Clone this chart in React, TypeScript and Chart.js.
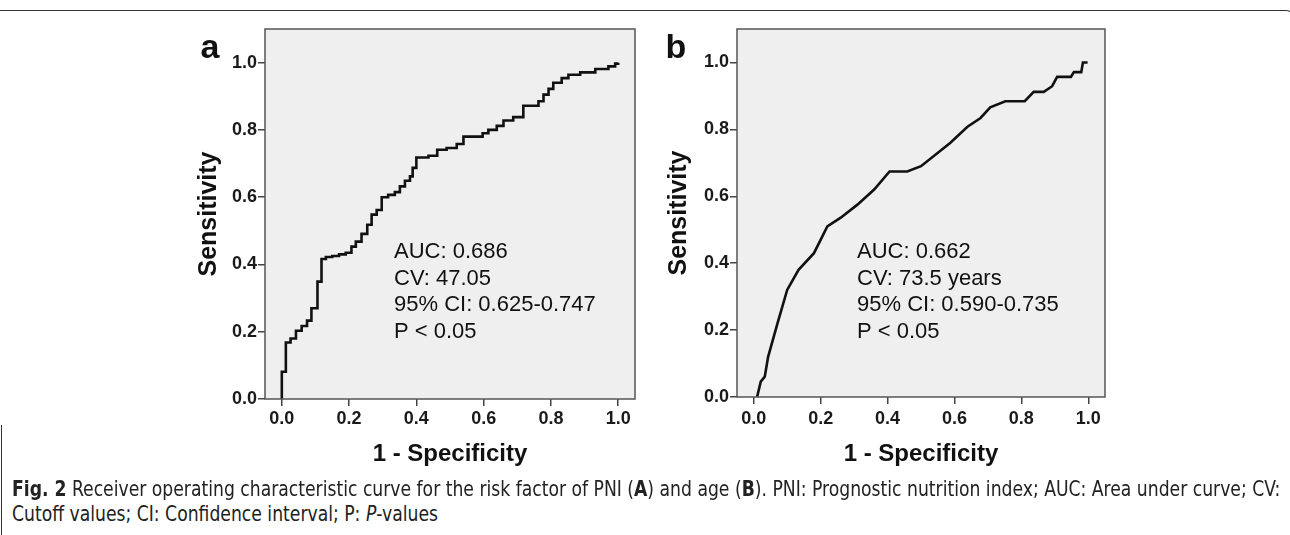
import React, { useEffect, useRef } from "react";
import { Chart, registerables } from "chart.js";

Chart.register(...registerables);

// ---------- data ----------
const xTickValues = [0.0, 0.2, 0.4, 0.6, 0.8, 1.0];
const yTickValues = [0.0, 0.2, 0.4, 0.6, 0.8, 1.0];

// Panel a (PNI): step-curve corners, 1 - specificity where the step happens, new sensitivity
const pniFpr = [
  0.0, 0.0, 0.012, 0.026, 0.042, 0.059, 0.075, 0.088, 0.106, 0.118, 0.131, 0.15, 0.17, 0.19,
  0.207, 0.22, 0.237, 0.254, 0.267, 0.282, 0.297, 0.316, 0.336, 0.351, 0.366, 0.381, 0.389,
  0.4, 0.436, 0.462, 0.49, 0.52, 0.54, 0.597, 0.614, 0.639, 0.659, 0.688, 0.718, 0.763,
  0.778, 0.793, 0.807, 0.832, 0.852, 0.887, 0.932, 0.971, 0.991, 1.0,
];
const pniTpr = [
  0.0, 0.081, 0.168, 0.18, 0.203, 0.217, 0.233, 0.27, 0.349, 0.416, 0.422, 0.425, 0.43, 0.435,
  0.453, 0.468, 0.491, 0.518, 0.548, 0.562, 0.6, 0.607, 0.615, 0.632, 0.649, 0.662, 0.687,
  0.718, 0.723, 0.741, 0.746, 0.758, 0.78, 0.79, 0.8, 0.812, 0.828, 0.838, 0.872, 0.885,
  0.905, 0.922, 0.94, 0.954, 0.964, 0.971, 0.981, 0.989, 0.997, 1.0,
];

// Panel b (age)
const ageFpr = [
  0.01, 0.021, 0.033, 0.043, 0.071, 0.1, 0.134, 0.18, 0.22, 0.26, 0.31, 0.36, 0.406, 0.459,
  0.5, 0.588, 0.638, 0.678, 0.707, 0.752, 0.81, 0.837, 0.867, 0.892, 0.907, 0.948, 0.957,
  0.979, 0.984, 0.998,
];
const ageTpr = [
  0.0, 0.046, 0.061, 0.12, 0.22, 0.32, 0.38, 0.43, 0.51, 0.536, 0.575, 0.62, 0.674, 0.674,
  0.69, 0.76, 0.807, 0.834, 0.866, 0.884, 0.884, 0.912, 0.912, 0.929, 0.957, 0.957, 0.971,
  0.971, 1.0, 1.0,
];

const pniStats = ["AUC: 0.686", "CV: 47.05", "95% CI: 0.625-0.747", "P < 0.05"];
const ageStats = ["AUC: 0.662", "CV: 73.5 years", "95% CI: 0.590-0.735", "P < 0.05"];

const xTitle = "1 - Specificity";
const yTitle = "Sensitivity";

// ---------- styling ----------
const FONT = '"Liberation Sans", Arial, Helvetica, sans-serif';
const CAP_FONT = '"Liberation Sans Narrow", "DejaVu Sans Condensed", "Liberation Sans", Arial, sans-serif';

const panelDeco = {
  id: "panelDeco",
  beforeDatasetsDraw(chart: any) {
    const { ctx, chartArea: a } = chart;
    ctx.save();
    ctx.fillStyle = "#efefef";
    ctx.fillRect(a.left, a.top, a.right - a.left, a.bottom - a.top);
    ctx.restore();
  },
  afterDraw(chart: any, _args: any, o: any) {
    const { ctx, chartArea: a } = chart;
    ctx.save();
    ctx.strokeStyle = "#555";
    ctx.lineWidth = 1.5;
    ctx.strokeRect(a.left, a.top, a.right - a.left, a.bottom - a.top);
    ctx.fillStyle = "#111";
    ctx.font = `bold 34px ${FONT}`;
    ctx.textAlign = "center";
    ctx.textBaseline = "alphabetic";
    ctx.fillText(o.letter, o.letterX, 58);
    ctx.font = `22px ${FONT}`;
    ctx.textAlign = "left";
    const baselines = [258, 284.5, 311, 337.5];
    (o.stats as string[]).forEach((s, i) => ctx.fillText(s, o.statsX, baselines[i]));
    ctx.restore();
  },
};

function makeConfig(p: {
  fpr: number[];
  tpr: number[];
  stepped: boolean;
  yAxisWidth: number;
  padRight: number;
  xAxisHeight: number;
  yTitlePad: number;
  xTickPad: number;
  letter: string;
  letterX: number;
  stats: string[];
  statsX: number;
}): any {
  const tickFont = { family: FONT, size: 18, weight: "bold" as const };
  const grid = {
    drawOnChartArea: false,
    drawTicks: true,
    tickLength: 7,
    color: "#444",
    lineWidth: 1.5,
  };
  return {
    type: "line",
    data: {
      datasets: [
        {
          data: p.fpr.map((x, i) => ({ x, y: p.tpr[i] })),
          borderColor: "#111",
          borderWidth: 2.6,
          pointRadius: 0,
          fill: false,
          tension: 0,
          stepped: p.stepped ? "before" : false,
          borderJoinStyle: "miter",
        },
      ],
    },
    options: {
      animation: false,
      responsive: false,
      maintainAspectRatio: false,
      devicePixelRatio: 1,
      layout: { padding: { top: 29, right: p.padRight, bottom: 0, left: 0 } },
      plugins: {
        legend: { display: false },
        tooltip: { enabled: false },
        panelDeco: { letter: p.letter, letterX: p.letterX, stats: p.stats, statsX: p.statsX },
      },
      scales: {
        x: {
          type: "linear",
          min: -0.05,
          max: 1.05,
          afterBuildTicks: (s: any) => {
            s.ticks = xTickValues.map((v) => ({ value: v }));
          },
          afterFit: (s: any) => {
            s.height = p.xAxisHeight;
          },
          ticks: {
            callback: (v: any) => Number(v).toFixed(1),
            font: tickFont,
            color: "#1a1a1a",
            padding: p.xTickPad,
            maxRotation: 0,
            autoSkip: false,
          },
          grid,
          border: { display: false },
          title: {
            display: true,
            text: xTitle,
            color: "#111",
            font: { family: FONT, size: 24, weight: "bold" },
            padding: { top: 0, bottom: 11.6 },
          },
        },
        y: {
          type: "linear",
          min: 0,
          max: 1.1,
          afterBuildTicks: (s: any) => {
            s.ticks = yTickValues.map((v) => ({ value: v }));
          },
          afterFit: (s: any) => {
            s.width = p.yAxisWidth;
          },
          ticks: {
            callback: (v: any) => Number(v).toFixed(1),
            font: tickFont,
            color: "#1a1a1a",
            padding: 1,
            autoSkip: false,
          },
          grid,
          border: { display: false },
          title: {
            display: true,
            text: yTitle,
            color: "#111",
            font: { family: FONT, size: 25, weight: "bold" },
            padding: { top: p.yTitlePad, bottom: 0 },
          },
        },
      },
    },
    plugins: [panelDeco],
  };
}

export default function App() {
  const refA = useRef<HTMLCanvasElement>(null);
  const refB = useRef<HTMLCanvasElement>(null);
  const cap1 = useRef<HTMLDivElement>(null);
  const cap2 = useRef<HTMLDivElement>(null);

  useEffect(() => {
    const a = new Chart(
      refA.current!,
      makeConfig({
        fpr: pniFpr,
        tpr: pniTpr,
        stepped: true,
        yAxisWidth: 265,
        padRight: 10,
        xAxisHeight: 81,
        yTitlePad: 194,
        xTickPad: 2,
        letter: "a",
        letterX: 210,
        stats: pniStats,
        statsX: 394,
      })
    );
    const b = new Chart(
      refB.current!,
      makeConfig({
        fpr: ageFpr,
        tpr: ageTpr,
        stepped: false,
        yAxisWidth: 92,
        padRight: 185,
        xAxisHeight: 83,
        yTitlePad: 19,
        xTickPad: 4,
        letter: "b",
        letterX: 31,
        stats: ageStats,
        statsX: 212,
      })
    );
    if (cap1.current && cap2.current) {
      const w = cap1.current.scrollWidth;
      const k = w > 0 ? 1268 / w : 1;
      cap1.current.style.transform = `scaleX(${k})`;
      cap2.current.style.transform = `scaleX(${k})`;
    }
    return () => {
      a.destroy();
      b.destroy();
    };
  }, []);

  const capStyle: React.CSSProperties = {
    position: "absolute",
    left: 12,
    whiteSpace: "nowrap",
    fontFamily: CAP_FONT,
    fontSize: 21,
    lineHeight: "24px",
    color: "#222",
    transformOrigin: "0 0",
    display: "inline-block",
  };

  return (
    <div
      style={{
        position: "absolute",
        left: 0,
        top: 0,
        width: 1290,
        height: 535,
        background: "#fff",
        overflow: "hidden",
      }}
    >
      <div
        style={{
          position: "absolute",
          left: 0,
          top: 10,
          width: 1294,
          height: 80,
          boxSizing: "border-box",
          borderTop: "1.5px solid #333",
          borderRight: "1.5px solid #333",
          borderTopRightRadius: 8,
        }}
      />
      <div
        style={{
          position: "absolute",
          left: 1,
          top: 425,
          width: 0,
          height: 120,
          borderLeft: "1.5px solid #333",
        }}
      />
      <canvas
        ref={refA}
        width={645}
        height={480}
        style={{ position: "absolute", left: 0, top: 0, width: 645, height: 480 }}
      />
      <canvas
        ref={refB}
        width={645}
        height={480}
        style={{ position: "absolute", left: 645, top: 0, width: 645, height: 480 }}
      />
      <div ref={cap1} style={{ ...capStyle, top: 477 }}>
        <b>Fig. 2</b> Receiver operating characteristic curve for the risk factor of PNI (<b>A</b>) and age (
        <b>B</b>). PNI: Prognostic nutrition index; AUC: Area under curve; CV:
      </div>
      <div ref={cap2} style={{ ...capStyle, top: 502 }}>
        Cutoff values; CI: Confidence interval; P: <i>P</i>-values
      </div>
    </div>
  );
}
